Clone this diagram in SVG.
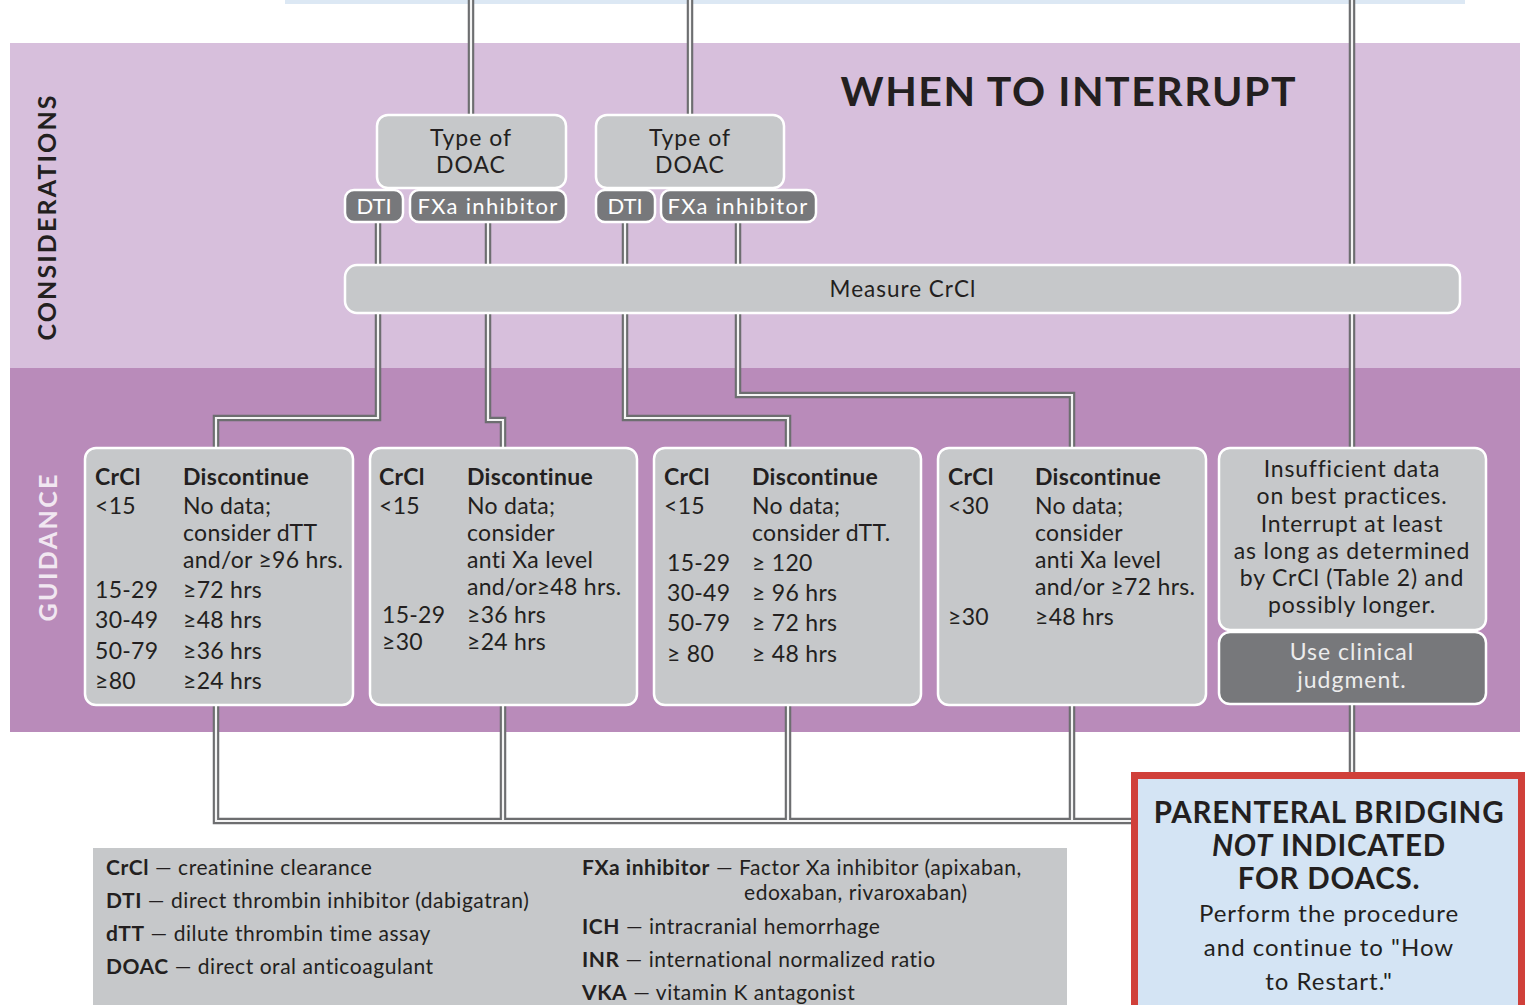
<svg xmlns="http://www.w3.org/2000/svg" width="1527" height="1005" viewBox="0 0 1527 1005">
<style>
text{font-family:Lato,"Noto Sans","DejaVu Sans",sans-serif;fill:#231f20}
.b{font-weight:bold}
.box{fill:#c6c8ca;stroke:#fff;stroke-width:2.5}
.dk{fill:#77787b;stroke:#fff;stroke-width:2.5}
.wt{fill:#fff}
.t23{font-size:23px;letter-spacing:0.3px}
.t22{font-size:22px}
.lg{font-size:21px;letter-spacing:0.55px}
.c{text-anchor:middle}
.tube{fill:none;stroke:#6d6e70;stroke-width:6.5;stroke-linejoin:miter}
.core{fill:none;stroke:#f4f4f4;stroke-width:2.2;stroke-linejoin:miter}
</style>
<rect width="1527" height="1005" fill="#fff"/>
<rect x="285" y="0" width="1180" height="4" fill="#dce8f4"/>
<rect x="10" y="43" width="1510" height="325" fill="#d7bfdc"/>
<rect x="10" y="368" width="1510" height="364" fill="#b98bba"/>
<text class="b" x="1068" y="106" font-size="41" text-anchor="middle" textLength="455">WHEN TO INTERRUPT</text>
<text class="b" transform="translate(56,218) rotate(-90)" font-size="25" text-anchor="middle" textLength="245">CONSIDERATIONS</text>
<text class="b" transform="translate(57,548) rotate(-90)" font-size="25" text-anchor="middle" textLength="147" style="fill:#f1e7f1">GUIDANCE</text>

<g id="connectors">
<path class="tube" d="M471 0V115M690 0V115M1352 0V778M378 222V418H216V450M488 222V420H503V450M625 222V418H788V450M738 222V395H1072V450M216 705V821H1140M503 705V821M788 705V821M1072 705V821"/>
<path class="core" d="M471 0V115M690 0V115M1352 0V778M378 222V418H216V450M488 222V420H503V450M625 222V418H788V450M738 222V395H1072V450M216 705V821H1140M503 705V821M788 705V821M1072 705V821"/>
<circle cx="1140" cy="821" r="5" fill="none" stroke="#6d6e70" stroke-width="2.5"/>
<circle cx="1352" cy="778" r="6" fill="#6d6e70"/>
</g>

<g id="type1" class="t23 c">
<rect class="box" x="377" y="115" width="189" height="73" rx="11"/>
<text x="471" y="146" letter-spacing="1">Type of</text>
<text x="471" y="173" letter-spacing="1">DOAC</text>
</g>
<g id="type2" class="t23 c">
<rect class="box" x="596" y="115" width="188" height="73" rx="11"/>
<text x="690" y="146" letter-spacing="1">Type of</text>
<text x="690" y="173" letter-spacing="1">DOAC</text>
</g>
<g id="dti1">
<rect class="dk" x="345" y="190" width="58" height="32" rx="9"/>
<text class="t22 c wt" x="374" y="214">DTI</text>
</g>
<g id="fxa1">
<rect class="dk" x="410" y="190" width="156" height="32" rx="9"/>
<text class="t22 c wt" x="488" y="214" letter-spacing="1.3">FXa inhibitor</text>
</g>
<g id="dti2">
<rect class="dk" x="596" y="190" width="59" height="32" rx="9"/>
<text class="t22 c wt" x="625" y="214">DTI</text>
</g>
<g id="fxa2">
<rect class="dk" x="661" y="190" width="155" height="32" rx="9"/>
<text class="t22 c wt" x="738" y="214" letter-spacing="1.3">FXa inhibitor</text>
</g>
<g id="measure">
<rect class="box" x="345" y="265" width="1115" height="48" rx="12"/>
<text class="c" x="903" y="297" font-size="22.5" letter-spacing="1">Measure CrCl</text>
</g>

<g id="g1" class="t23">
<rect class="box" x="85" y="448" width="268" height="257" rx="11"/>
<text class="b" x="95" y="485">CrCl</text><text class="b" x="183" y="485">Discontinue</text>
<text x="95" y="514">&lt;15</text><text x="183" y="514">No data;</text>
<text x="183" y="541">consider dTT</text>
<text x="183" y="568">and/or ≥96 hrs.</text>
<text x="95" y="598">15-29</text><text x="183" y="598">≥72 hrs</text>
<text x="95" y="628">30-49</text><text x="183" y="628">≥48 hrs</text>
<text x="95" y="659">50-79</text><text x="183" y="659">≥36 hrs</text>
<text x="95" y="689">≥80</text><text x="183" y="689">≥24 hrs</text>
</g>
<g id="g2" class="t23">
<rect class="box" x="370" y="448" width="267" height="257" rx="11"/>
<text class="b" x="379" y="485">CrCl</text><text class="b" x="467" y="485">Discontinue</text>
<text x="379" y="514">&lt;15</text><text x="467" y="514">No data;</text>
<text x="467" y="541">consider</text>
<text x="467" y="568">anti Xa level</text>
<text x="467" y="595">and/or≥48 hrs.</text>
<text x="382" y="623">15-29</text><text x="467" y="623">≥36 hrs</text>
<text x="382" y="650">≥30</text><text x="467" y="650">≥24 hrs</text>
</g>
<g id="g3" class="t23">
<rect class="box" x="654" y="448" width="267" height="257" rx="11"/>
<text class="b" x="664" y="485">CrCl</text><text class="b" x="752" y="485">Discontinue</text>
<text x="664" y="514">&lt;15</text><text x="752" y="514">No data;</text>
<text x="752" y="541">consider dTT.</text>
<text x="667" y="571">15-29</text><text x="752" y="571">≥ 120</text>
<text x="667" y="601">30-49</text><text x="752" y="601">≥ 96 hrs</text>
<text x="667" y="631">50-79</text><text x="752" y="631">≥ 72 hrs</text>
<text x="667" y="662">≥ 80</text><text x="752" y="662">≥ 48 hrs</text>
</g>
<g id="g4" class="t23">
<rect class="box" x="938" y="448" width="268" height="257" rx="11"/>
<text class="b" x="948" y="485">CrCl</text><text class="b" x="1035" y="485">Discontinue</text>
<text x="948" y="514">&lt;30</text><text x="1035" y="514">No data;</text>
<text x="1035" y="541">consider</text>
<text x="1035" y="568">anti Xa level</text>
<text x="1035" y="595">and/or ≥72 hrs.</text>
<text x="948" y="625">≥30</text><text x="1035" y="625">≥48 hrs</text>
</g>
<g id="g5" class="t23 c">
<rect class="box" x="1219" y="448" width="267" height="182" rx="11"/>
<text x="1352" y="477" letter-spacing="0.8">Insufficient data</text>
<text x="1352" y="504" letter-spacing="0.8">on best practices.</text>
<text x="1352" y="532" letter-spacing="0.8">Interrupt at least</text>
<text x="1352" y="559" letter-spacing="0.8">as long as determined</text>
<text x="1352" y="586" letter-spacing="0.8">by CrCl (Table 2) and</text>
<text x="1352" y="613" letter-spacing="0.8">possibly longer.</text>
</g>
<g id="judgment" class="c">
<rect class="dk" x="1219" y="632" width="267" height="72" rx="11"/>
<text x="1352" y="660" font-size="23" style="fill:#ececec" letter-spacing="1">Use clinical</text>
<text x="1352" y="688" font-size="23" style="fill:#ececec" letter-spacing="1">judgment.</text>
</g>

<g id="bridging">
<rect x="1134.5" y="775.5" width="387" height="233" fill="#d4e4f4" stroke="#d0403a" stroke-width="7"/>
<text class="b c" x="1329" y="823" font-size="29.5" letter-spacing="0.8">PARENTERAL BRIDGING</text>
<text class="b c" x="1329" y="856" font-size="29.5" letter-spacing="0.8"><tspan font-style="italic">NOT</tspan> INDICATED</text>
<text class="b c" x="1329" y="889" font-size="29.5" letter-spacing="0.8">FOR DOACS.</text>
<text class="c" x="1329" y="922" font-size="24" letter-spacing="1">Perform the procedure</text>
<text class="c" x="1329" y="956" font-size="24" letter-spacing="1">and continue to "How</text>
<text class="c" x="1329" y="990" font-size="24" letter-spacing="1">to Restart."</text>
</g>

<g id="legend" class="lg">
<rect x="93" y="848" width="974" height="160" fill="#c6c8ca"/>
<text x="106" y="875"><tspan class="b">CrCl</tspan> — creatinine clearance</text>
<text x="106" y="908"><tspan class="b">DTI</tspan> — direct thrombin inhibitor (dabigatran)</text>
<text x="106" y="941"><tspan class="b">dTT</tspan> — dilute thrombin time assay</text>
<text x="106" y="974"><tspan class="b">DOAC</tspan> — direct oral anticoagulant</text>
<text x="582" y="875"><tspan class="b">FXa inhibitor</tspan> — Factor Xa inhibitor (apixaban,</text>
<text x="744" y="900">edoxaban, rivaroxaban)</text>
<text x="582" y="934"><tspan class="b">ICH</tspan> — intracranial hemorrhage</text>
<text x="582" y="967"><tspan class="b">INR</tspan> — international normalized ratio</text>
<text x="582" y="1000"><tspan class="b">VKA</tspan> — vitamin K antagonist</text>
</g>
</svg>
